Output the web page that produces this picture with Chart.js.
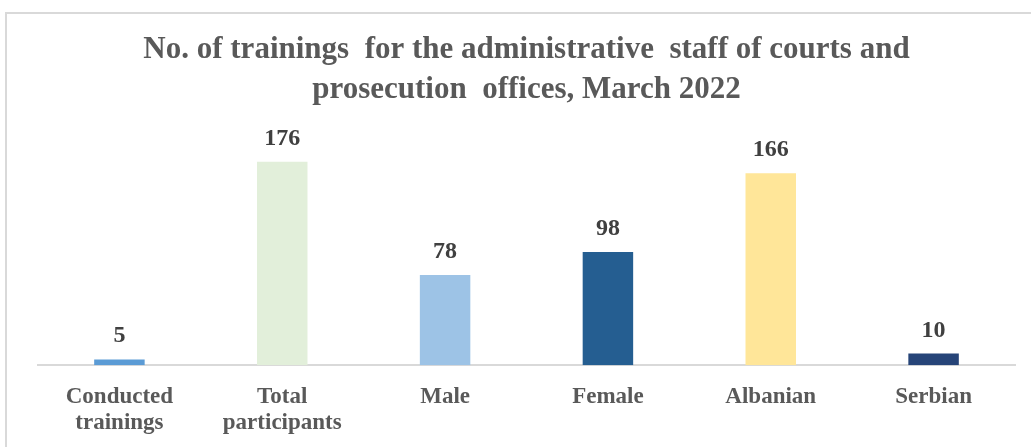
<!DOCTYPE html>
<html lang="en">
<head>
    <title>No. of trainings for the administrative staff</title>
    <script src="https://cdn.jsdelivr.net/npm/chart.js"></script>
    <style>
        html, body { margin: 0; padding: 0; background: #fff; overflow: hidden; }
        #frame {
            position: absolute;
            left: 5px;
            top: 12px;
            width: 1100px;
            height: 500px;
            border: 2px solid #d9d9d9;
        }
        #wrap {
            position: absolute;
            left: 0;
            top: 0;
            width: 1031px;
            height: 472px;
        }
    </style>
</head>
<body>
    <div id="frame"></div>
    <div id="wrap"><canvas id="chart1"></canvas></div>

    <script>
        // categories and values
        const categories = [['Conducted', 'trainings'], ['Total', 'participants'], 'Male', 'Female', 'Albanian', 'Serbian'];
        const values = [5, 176, 78, 98, 166, 10];
        const barColors = ['#5b9bd5', '#e2efda', '#9dc3e6', '#255e91', '#ffe699', '#264478'];
        const titleLines = ['No. of trainings  for the administrative  staff of courts and', 'prosecution  offices, March 2022'];

        // value labels above the bars
        const valueLabels = {
            id: 'valueLabels',
            afterDatasetsDraw(chart) {
                const ctx = chart.ctx;
                const meta = chart.getDatasetMeta(0);
                ctx.save();
                ctx.font = 'bold 24px "Liberation Serif", "Times New Roman", serif';
                ctx.fillStyle = '#404040';
                ctx.textAlign = 'center';
                ctx.textBaseline = 'alphabetic';
                meta.data.forEach((bar, i) => {
                    ctx.fillText(values[i], bar.x, bar.y - 17);
                });
                ctx.restore();
            }
        };

        const chart1 = new Chart(document.getElementById('chart1').getContext('2d'), {
            type: 'bar',
            data: {
                labels: categories,
                datasets: [{
                    data: values,
                    backgroundColor: barColors,
                    borderWidth: 0,
                    barPercentage: 0.31,
                    categoryPercentage: 1
                }]
            },
            options: {
                responsive: true,
                maintainAspectRatio: false,
                animation: false,
                layout: {
                    padding: { left: 38, right: 16, top: 30, bottom: 17 }
                },
                plugins: {
                    legend: { display: false },
                    tooltip: { enabled: false },
                    title: {
                        display: true,
                        text: titleLines,
                        color: '#595959',
                        font: { family: '"Liberation Serif", "Times New Roman", serif', size: 31, weight: 'bold', lineHeight: 1.29 },
                        padding: { top: 0, bottom: 24 }
                    }
                },
                scales: {
                    x: {
                        grid: { display: false, drawTicks: false },
                        border: { display: true, color: '#d9d9d9', width: 2 },
                        ticks: {
                            color: '#595959',
                            padding: 18,
                            maxRotation: 0,
                            autoSkip: false,
                            font: { family: '"Liberation Serif", "Times New Roman", serif', size: 23, weight: 'bold', lineHeight: 1.17 }
                        }
                    },
                    y: {
                        display: false,
                        min: 0,
                        max: 200
                    }
                }
            },
            plugins: [valueLabels]
        });
    </script>
</body>
</html>
